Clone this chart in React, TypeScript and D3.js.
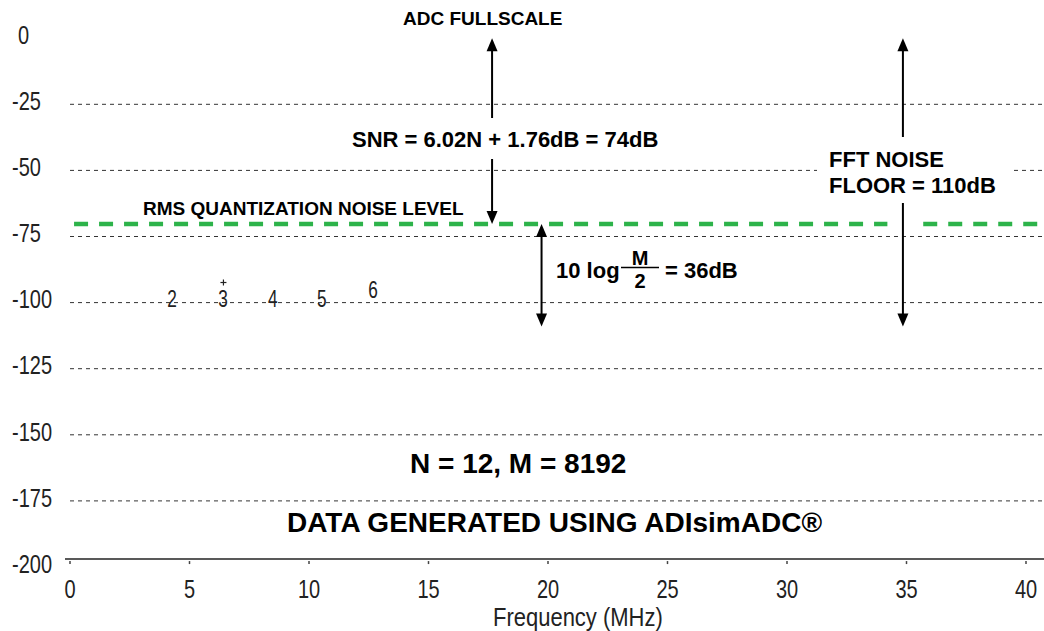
import React from "react";
import * as d3 from "d3";

// axis ticks
const yTicks = [0, -25, -50, -75, -100, -125, -150, -175, -200];
const gridLevels = [-25, -50, -75, -100, -125, -150, -175];
const xTicks = [0, 5, 10, 15, 20, 25, 30, 35, 40];

// harmonic spur labels
const harmonicOrders = ["2", "3", "4", "5", "6"];
const harmonicFreqs = [4.27, 6.4, 8.49, 10.54, 12.68];
const harmonicLabelDb = [-98.6, -98.6, -98.6, -98.6, -95.2];
const spurFreqs = [6.42];
const spurDb = [-92.4];

// levels (dBFS)
const fullscaleDb = 0;
const quantNoiseDb = -70.3;
const fftFloorDb = -109;

// annotation arrows: frequency where each vertical arrow is drawn
const snrArrowFreq = 17.66;
const processGainFreq = 19.73;
const fftArrowFreq = 34.85;

// green noise line segments (MHz)
const noiseSegments = [
  [0.17, 34.2],
  [35.7, 40.75],
];

const W = 1044;
const H = 631;

const narrow = "'Liberation Sans', Arial, sans-serif";
const bold = "'Liberation Sans', Arial, Helvetica, sans-serif";

export default function App() {
  const x = d3.scaleLinear().domain([0, 40]).range([70, 1026]);
  const y = d3.scaleLinear().domain([0, -200]).range([38.2, 567]);
  const axisY = y(-197);
  const gridEnd = x(40.75);

  const arrowHead = (cx: number, tip: number, dir: number) => {
    const len = 13;
    const hw = 5.5;
    const p = d3.path();
    p.moveTo(cx, tip);
    p.lineTo(cx - hw, tip - dir * len);
    p.lineTo(cx + hw, tip - dir * len);
    p.closePath();
    return p.toString();
  };

  const vArrow = (f: number, top: number, bottom: number) => {
    const cx = x(f);
    const y1 = y(top);
    const y2 = y(bottom);
    return (
      <g key={f}>
        <line x1={cx} x2={cx} y1={y1 + 6} y2={y2 - 6} stroke="#000" strokeWidth={2} />
        <path d={arrowHead(cx, y1, -1)} fill="#000" />
        <path d={arrowHead(cx, y2, 1)} fill="#000" />
      </g>
    );
  };

  return (
    <svg
      width={W}
      height={H}
      style={{ position: "absolute", left: 0, top: 0, background: "#fff" }}
    >
      <rect x={0} y={0} width={W} height={H} fill="#fff" />

      {/* dashed grid */}
      {gridLevels.map((v) => (
        <line
          key={v}
          x1={x(0)}
          x2={gridEnd}
          y1={y(v)}
          y2={y(v)}
          stroke="#333"
          strokeWidth={1}
          strokeDasharray="4,4"
        />
      ))}

      {/* RMS quantization noise level */}
      {noiseSegments.map((s, i) => (
        <line
          key={i}
          x1={x(s[0])}
          x2={x(s[1])}
          y1={y(quantNoiseDb)}
          y2={y(quantNoiseDb)}
          stroke="#2db34a"
          strokeWidth={4.5}
          strokeDasharray="14,11"
        />
      ))}

      {/* arrows */}
      {vArrow(snrArrowFreq, fullscaleDb, quantNoiseDb)}
      {vArrow(processGainFreq, quantNoiseDb, fftFloorDb)}
      {vArrow(fftArrowFreq, fullscaleDb, fftFloorDb)}

      {/* white boxes behind annotation text */}
      <rect x={346} y={118} width={320} height={41} fill="#fff" />
      <rect x={817} y={137} width={193} height={66} fill="#fff" />

      {/* y tick labels */}
      {yTicks.map((t) => (
        <text
          key={t}
          transform={`translate(${t === 0 ? 18 : 12},${y(t) - 3}) scale(0.8,1)`}
          dy="0.35em"
          fontFamily={narrow}
          fontSize={25}
          fill="#222"
        >
          {t}
        </text>
      ))}

      {/* x axis */}
      <line x1={65} x2={W} y1={axisY} y2={axisY} stroke="#222" strokeWidth={1.5} />
      {xTicks.map((t) => (
        <g key={t}>
          <line x1={x(t)} x2={x(t)} y1={axisY + 2} y2={axisY + 5} stroke="#444" strokeWidth={1.5} />
          <text
            transform={`translate(${x(t)},${axisY + 39}) scale(0.8,1)`}
            textAnchor="middle"
            fontFamily={narrow}
            fontSize={25}
            fill="#222"
          >
            {t}
          </text>
        </g>
      ))}
      <text
        transform={`translate(${x(21.25)},${axisY + 67}) scale(0.88,1)`}
        textAnchor="middle"
        fontFamily={narrow}
        fontSize={25}
        fill="#222"
      >
        Frequency (MHz)
      </text>

      {/* harmonic labels */}
      {harmonicOrders.map((h, i) => (
        <text
          key={h}
          transform={`translate(${x(harmonicFreqs[i])},${y(harmonicLabelDb[i])}) scale(0.75,1)`}
          dy="0.35em"
          textAnchor="middle"
          fontFamily={narrow}
          fontSize={23}
          fill="#222"
        >
          {h}
        </text>
      ))}
      {spurFreqs.map((f, i) => (
        <g key={f} stroke="#222" strokeWidth={1.2}>
          <line x1={x(f) - 3} x2={x(f) + 3} y1={y(spurDb[i])} y2={y(spurDb[i])} />
          <line x1={x(f)} x2={x(f)} y1={y(spurDb[i]) - 3} y2={y(spurDb[i]) + 3} />
        </g>
      ))}

      {/* annotations */}
      <g fontFamily={bold} fontWeight="bold" fill="#000">
        <text x={403} y={25} fontSize={19}>
          ADC FULLSCALE
        </text>
        <text x={352} y={146.5} fontSize={22}>
          SNR = 6.02N + 1.76dB = 74dB
        </text>
        <text x={143} y={215} fontSize={19}>
          RMS QUANTIZATION NOISE LEVEL
        </text>
        <text x={829} y={167} fontSize={22}>
          FFT NOISE
        </text>
        <text x={829} y={193} fontSize={22}>
          FLOOR = 110dB
        </text>
        <text x={556} y={278} fontSize={22}>
          10 log
        </text>
        <text x={640} y={265} fontSize={20} textAnchor="middle">
          M
        </text>
        <line x1={621} x2={659} y1={267.5} y2={267.5} stroke="#000" strokeWidth={1.6} />
        <text x={640} y={288} fontSize={20} textAnchor="middle">
          2
        </text>
        <text x={665} y={278} fontSize={22}>
          = 36dB
        </text>
        <text x={410} y={473} fontSize={28}>
          N = 12, M = 8192
        </text>
        <text x={287} y={532} fontSize={28}>
          DATA GENERATED USING ADIsimADC®
        </text>
      </g>
    </svg>
  );
}
